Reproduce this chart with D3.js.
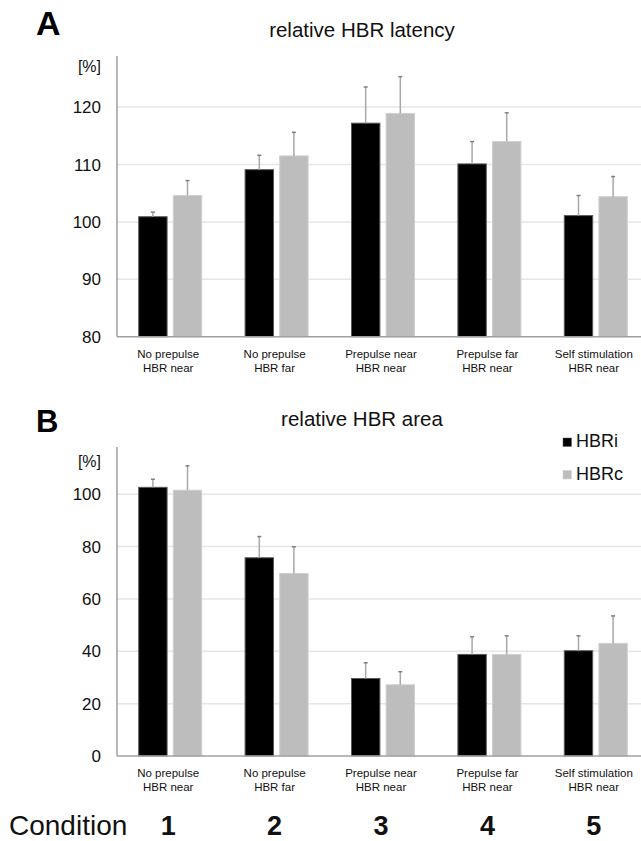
<!DOCTYPE html>
<html>
<head>
<meta charset="utf-8">
<script src="https://cdn.jsdelivr.net/npm/d3@7"></script>
<style>
  body { margin: 0; background: #fff; }
  svg { display: block; font-family: Arial, "Liberation Sans", sans-serif; }
</style>
</head>
<body>
<svg id="chart" width="641" height="841"></svg>
<script>
// conditions along the x axis
var conditions = ["1", "2", "3", "4", "5"];
var labelsTop = ["No prepulse", "No prepulse", "Prepulse near", "Prepulse far", "Self stimulation"];
var labelsBottom = ["HBR near", "HBR far", "HBR near", "HBR near", "HBR near"];
var series = ["HBRi", "HBRc"];

// panel A: relative HBR latency (mean, mean + error)
var latencyHBRi = [100.9, 109.1, 117.2, 110.1, 101.1];
var latencyHBRiErr = [101.7, 111.6, 123.5, 114.0, 104.6];
var latencyHBRc = [104.6, 111.5, 118.9, 114.0, 104.4];
var latencyHBRcErr = [107.2, 115.6, 125.3, 119.0, 107.9];
var latencyTicks = [80, 90, 100, 110, 120];

// panel B: relative HBR area
var areaHBRi = [102.6, 75.7, 29.6, 38.8, 40.2];
var areaHBRiErr = [105.7, 83.8, 35.6, 45.5, 45.9];
var areaHBRc = [101.5, 69.7, 27.2, 38.8, 43.0];
var areaHBRcErr = [110.8, 79.9, 32.2, 45.9, 53.5];
var areaTicks = [0, 20, 40, 60, 80, 100];

var colors = { HBRi: "#000000", HBRc: "#bdbdbd" };
var strokes = { HBRi: "#5a5a5a", HBRc: "#d0d0d0" };

var svg = d3.select("#chart");

// shared x scales
var x = d3.scaleBand()
    .domain(conditions)
    .range([117, 649])
    .paddingInner(0)
    .paddingOuter(0);

var x1 = d3.scaleBand()
    .domain(series)
    .range([-31.5, 31.5])
    .paddingInner(0.18);

function panel(opts) {
  var y = d3.scaleLinear().domain(opts.domain).range(opts.range);
  var g = svg.append("g");

  // gridlines
  g.selectAll(".grid")
    .data(opts.ticks.slice(1))
    .enter().append("line")
      .attr("x1", 117).attr("x2", 641)
      .attr("y1", function(d) { return y(d); })
      .attr("y2", function(d) { return y(d); })
      .attr("stroke", "#e6e6e6")
      .attr("stroke-width", 1.5);

  // tick labels
  g.selectAll(".tick")
    .data(opts.ticks)
    .enter().append("text")
      .attr("x", 101)
      .attr("y", function(d) { return y(d); })
      .attr("dy", "0.36em")
      .attr("text-anchor", "end")
      .attr("font-size", "17px")
      .attr("fill", "#111")
      .text(function(d) { return d; });

  g.append("text")
      .attr("x", 101)
      .attr("y", opts.unitY)
      .attr("text-anchor", "end")
      .attr("font-size", "16px")
      .attr("fill", "#111")
      .text("[%]");

  // bars
  var rows = conditions.map(function(c, i) {
    return [
      { c: c, s: "HBRi", v: opts.hbri[i], e: opts.hbriErr[i] },
      { c: c, s: "HBRc", v: opts.hbrc[i], e: opts.hbrcErr[i] }
    ];
  });

  var grp = g.selectAll(".group")
    .data(rows)
    .enter().append("g")
      .attr("transform", function(d) { return "translate(" + (x(d[0].c) + x.bandwidth() / 2) + ",0)"; });

  var bar = grp.selectAll("g")
    .data(function(d) { return d; })
    .enter().append("g");

  bar.append("rect")
      .attr("x", function(d) { return x1(d.s); })
      .attr("width", x1.bandwidth())
      .attr("y", function(d) { return y(d.v); })
      .attr("height", function(d) { return y(opts.domain[0]) - y(d.v); })
      .attr("fill", function(d) { return colors[d.s]; })
      .attr("stroke", function(d) { return strokes[d.s]; })
      .attr("stroke-width", 1);

  // error bars (upper only)
  bar.append("line")
      .attr("x1", function(d) { return x1(d.s) + x1.bandwidth() / 2; })
      .attr("x2", function(d) { return x1(d.s) + x1.bandwidth() / 2; })
      .attr("y1", function(d) { return y(d.v); })
      .attr("y2", function(d) { return y(d.e); })
      .attr("stroke", "#a8a8a8")
      .attr("stroke-width", 1.5);

  bar.append("line")
      .attr("x1", function(d) { return x1(d.s) + x1.bandwidth() / 2 - 2; })
      .attr("x2", function(d) { return x1(d.s) + x1.bandwidth() / 2 + 2; })
      .attr("y1", function(d) { return y(d.e); })
      .attr("y2", function(d) { return y(d.e); })
      .attr("stroke", "#808080")
      .attr("stroke-width", 1.5);

  // axes lines
  g.append("line")
      .attr("x1", 117).attr("x2", 117)
      .attr("y1", y(opts.domain[0])).attr("y2", y(opts.domain[1]))
      .attr("stroke", "#a0a0a0")
      .attr("stroke-width", 1.5);

  g.append("line")
      .attr("x1", 117).attr("x2", 641)
      .attr("y1", y(opts.domain[0])).attr("y2", y(opts.domain[0]))
      .attr("stroke", "#a0a0a0")
      .attr("stroke-width", 1.5);

  // category labels
  var lab = g.selectAll(".cat")
    .data(conditions)
    .enter().append("text")
      .attr("x", function(d) { return x(d) + x.bandwidth() / 2 - 2; })
      .attr("y", y(opts.domain[0]) + 21)
      .attr("text-anchor", "middle")
      .attr("font-size", "11.5px")
      .attr("fill", "#111");
  lab.append("tspan").text(function(d, i) { return labelsTop[i]; });
  lab.append("tspan")
      .attr("x", function(d) { return x(d) + x.bandwidth() / 2 - 2; })
      .attr("dy", 14)
      .text(function(d, i) { return labelsBottom[i]; });

  // titles
  g.append("text")
      .attr("x", 362)
      .attr("y", opts.titleY)
      .attr("text-anchor", "middle")
      .attr("font-size", "20.5px")
      .attr("fill", "#111")
      .text(opts.title);

  g.append("text")
      .attr("x", 36)
      .attr("y", opts.letterY)
      .attr("font-size", opts.letterSize)
      .attr("font-weight", "bold")
      .attr("fill", "#000")
      .text(opts.letter);

  return y;
}

panel({
  domain: [80, 128.9], range: [336.7, 56], ticks: latencyTicks,
  hbri: latencyHBRi, hbriErr: latencyHBRiErr, hbrc: latencyHBRc, hbrcErr: latencyHBRcErr,
  unitY: 71.5, title: "relative HBR latency", titleY: 36.5, letter: "A", letterY: 35, letterSize: "34px"
});

panel({
  domain: [0, 118], range: [756, 447], ticks: areaTicks,
  hbri: areaHBRi, hbriErr: areaHBRiErr, hbrc: areaHBRc, hbrcErr: areaHBRcErr,
  unitY: 466.5, title: "relative HBR area", titleY: 426, letter: "B", letterY: 432, letterSize: "31px"
});

// legend
var legend = svg.selectAll(".legend")
  .data(series)
  .enter().append("g")
    .attr("transform", function(d, i) { return "translate(563," + (438 + i * 32.5) + ")"; });

legend.append("rect")
    .attr("width", 8.5)
    .attr("height", 8.5)
    .attr("fill", function(d) { return colors[d]; })
    .attr("stroke", function(d) { return strokes[d]; })
    .attr("stroke-width", 0.5);

legend.append("text")
    .attr("x", 13)
    .attr("y", 9)
    .attr("font-size", "18px")
    .attr("fill", "#111")
    .text(function(d) { return d; });

// condition row
svg.append("text")
    .attr("x", 9)
    .attr("y", 834.5)
    .attr("font-size", "28px")
    .attr("fill", "#111")
    .text("Condition");

svg.selectAll(".cond")
  .data(conditions)
  .enter().append("text")
    .attr("x", function(d) { return x(d) + x.bandwidth() / 2 - 2; })
    .attr("y", 834.5)
    .attr("text-anchor", "middle")
    .attr("font-size", "27px")
    .attr("font-weight", "bold")
    .attr("fill", "#111")
    .text(function(d) { return d; });
</script>
</body>
</html>
